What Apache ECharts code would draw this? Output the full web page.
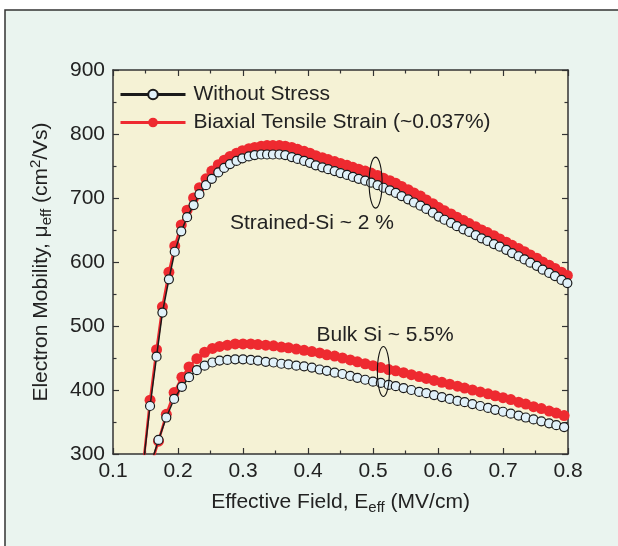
<!DOCTYPE html>
<html>
<head>
<meta charset="utf-8">
<title>Electron mobility vs effective field</title>
<script src="https://cdn.jsdelivr.net/npm/echarts@6/dist/echarts.min.js"></script>
<style>
    html, body { margin: 0; padding: 0; background: #fff; overflow: hidden; }
    #chart { width: 618px; height: 546px; }
</style>
</head>
<body>
<div id="chart"></div>
<script>
// effective field (MV/cm) of each marker
var strainedField = [0.148, 0.157, 0.167, 0.176, 0.186, 0.195, 0.205, 0.214, 0.224, 0.233,
    0.243, 0.252, 0.262, 0.271, 0.280, 0.290, 0.299, 0.309, 0.318, 0.328,
    0.337, 0.346, 0.356, 0.365, 0.375, 0.384, 0.394, 0.403, 0.412, 0.422,
    0.431, 0.441, 0.450, 0.460, 0.469, 0.478, 0.488, 0.497, 0.507, 0.516,
    0.526, 0.535, 0.544, 0.554, 0.563, 0.573, 0.582, 0.592, 0.601, 0.610,
    0.620, 0.629, 0.639, 0.648, 0.658, 0.667, 0.676, 0.686, 0.695, 0.705,
    0.714, 0.724, 0.733, 0.742, 0.752, 0.761, 0.771, 0.780, 0.790, 0.799];
var strainedNoStress = [296, 375, 452, 521, 573, 616, 648, 670, 689, 706,
    720, 730, 740, 747, 753, 758, 762, 765, 767, 768,
    768, 768, 768, 767, 764, 761, 758, 755, 751, 748,
    745, 742, 739, 736, 733, 730, 727, 724, 720, 716,
    712, 708, 703, 698, 693, 688, 683, 677, 671, 666,
    661, 656, 651, 647, 642, 637, 633, 628, 624, 619,
    614, 609, 604, 599, 594, 588, 583, 578, 572, 567];
var strainedTensile = [298, 384, 463, 530, 584, 625, 658, 681, 700, 716,
    730, 742, 752, 759, 765, 770, 774, 777, 779, 781,
    782, 782, 782, 781, 779, 776, 773, 770, 766, 763,
    760, 757, 754, 751, 748, 745, 742, 739, 735, 731,
    727, 723, 718, 713, 708, 703, 697, 691, 685, 680,
    675, 670, 665, 660, 655, 650, 646, 641, 636, 631,
    626, 621, 616, 611, 606, 600, 595, 590, 584, 579];

var bulkField = [0.158, 0.170, 0.182, 0.194, 0.206, 0.217, 0.229, 0.241, 0.253, 0.264,
    0.276, 0.288, 0.300, 0.312, 0.323, 0.335, 0.347, 0.359, 0.370, 0.382,
    0.394, 0.406, 0.418, 0.429, 0.441, 0.453, 0.465, 0.476, 0.488, 0.500,
    0.512, 0.524, 0.535, 0.547, 0.559, 0.571, 0.582, 0.594, 0.606, 0.618,
    0.630, 0.641, 0.653, 0.665, 0.677, 0.688, 0.700, 0.712, 0.724, 0.735,
    0.747, 0.759, 0.771, 0.782, 0.794];
var bulkNoStress = [284, 322, 357, 386, 405, 420, 431, 438, 443, 446,
    447, 448, 448, 447, 446, 444, 443, 441, 440, 438,
    437, 435, 432, 430, 427, 425, 422, 419, 416, 413,
    411, 408, 406, 403, 400, 397, 395, 392, 389, 386,
    383, 381, 378, 375, 372, 369, 366, 363, 360, 357,
    354, 351, 348, 345, 342];
var bulkTensile = [280, 320, 362, 396, 420, 436, 449, 459, 465, 468,
    470, 472, 472, 472, 471, 470, 469, 467, 466, 464,
    462, 460, 458, 455, 453, 450, 447, 444, 441, 438,
    435, 432, 430, 427, 424, 421, 418, 415, 412, 409,
    406, 403, 400, 397, 394, 391, 388, 385, 381, 378,
    374, 371, 367, 364, 360];

var xTickLabels = ['0.1', '0.2', '0.3', '0.4', '0.5', '0.6', '0.7', '0.8'];
var yTickLabels = ['300', '400', '500', '600', '700', '800', '900'];

var seriesNames = ['Without Stress', 'Biaxial Tensile Strain (~0.037%)'];

var FONT = '"Liberation Sans", Arial, Helvetica, sans-serif';
var INK = '#222';
var RED = '#ee2a30';
var FS = 21;

function pairs(xs, ys) {
    return xs.map(function (x, i) { return [x, ys[i]]; });
}

function tensileSeries(xs, ys) {
    return {
        name: seriesNames[1],
        type: 'line',
        data: pairs(xs, ys),
        symbol: 'circle',
        symbolSize: 11,
        showAllSymbol: true,
        clip: true,
        z: 2,
        itemStyle: { color: RED },
        lineStyle: { color: RED, width: 2.5 },
        emphasis: { disabled: true }
    };
}

function noStressSeries(xs, ys) {
    return {
        name: seriesNames[0],
        type: 'line',
        data: pairs(xs, ys),
        symbol: 'circle',
        symbolSize: 9,
        showAllSymbol: true,
        clip: true,
        z: 3,
        itemStyle: { color: '#e1f1f9', borderColor: '#1a1a1a', borderWidth: 1.2 },
        lineStyle: { color: '#1a1a1a', width: 1.5 },
        emphasis: { disabled: true }
    };
}

var axisLine = { show: true, onZero: false, lineStyle: { color: '#333', width: 1.5 } };
var majorTick = { inside: true, length: 6, lineStyle: { color: '#333', width: 1.2 } };
var minorTick = { show: true, splitNumber: 2, length: 3.5, lineStyle: { color: '#333', width: 1.2 } };

var chart = echarts.init(document.getElementById('chart'));
chart.setOption({
    animation: false,
    textStyle: { fontFamily: FONT },
    grid: {
        left: 113, right: 50, top: 70, bottom: 92,
        show: true, backgroundColor: '#f5f2d5', borderWidth: 0
    },
    legend: {
        data: [
            { name: seriesNames[0], lineStyle: { width: 3 } },
            { name: seriesNames[1], lineStyle: { width: 3 } }
        ],
        orient: 'vertical',
        left: 119, top: 84,
        padding: 0,
        itemWidth: 65, itemHeight: 12, itemGap: 7,
        textStyle: { fontSize: FS, color: INK, fontFamily: FONT, padding: [0, 0, 0, 3] },
        selectedMode: false
    },
    xAxis: [{
        type: 'value', min: 0.1, max: 0.8, interval: 0.1,
        position: 'bottom',
        name: 'Effective Field, E{sub|eff} (MV/cm)',
        nameLocation: 'middle', nameGap: 35,
        nameTextStyle: {
            fontSize: FS, color: INK, fontFamily: FONT, lineHeight: 26,
            rich: { sub: { fontSize: 15, lineHeight: 14, verticalAlign: 'bottom', color: INK, fontFamily: FONT } }
        },
        axisLine: axisLine,
        axisTick: majorTick,
        minorTick: minorTick,
        splitLine: { show: false },
        axisLabel: {
            fontSize: FS, color: INK, fontFamily: FONT, margin: 7,
            formatter: function (v) { return xTickLabels[Math.round((v - 0.1) * 10)]; }
        }
    }, {
        type: 'value', min: 0.1, max: 0.8, interval: 0.1,
        position: 'top',
        axisLine: axisLine,
        axisTick: majorTick,
        minorTick: minorTick,
        splitLine: { show: false },
        axisLabel: { show: false }
    }],
    yAxis: [{
        type: 'value', min: 300, max: 900, interval: 100,
        position: 'left',
        name: 'Electron Mobility, μ{sub|eff} (cm{sup|2}/Vs)',
        nameLocation: 'middle', nameRotate: 90, nameGap: 59,
        nameTextStyle: {
            fontSize: FS, color: INK, fontFamily: FONT, lineHeight: 26,
            rich: {
                sub: { fontSize: 15, lineHeight: 14, verticalAlign: 'bottom', color: INK, fontFamily: FONT },
                sup: { fontSize: 15, lineHeight: 14, verticalAlign: 'top', color: INK, fontFamily: FONT }
            }
        },
        axisLine: axisLine,
        axisTick: majorTick,
        minorTick: minorTick,
        splitLine: { show: false },
        axisLabel: {
            fontSize: FS, color: INK, fontFamily: FONT, margin: 8,
            formatter: function (v) { return yTickLabels[Math.round((v - 300) / 100)]; }
        }
    }, {
        type: 'value', min: 300, max: 900, interval: 100,
        position: 'right',
        axisLine: axisLine,
        axisTick: majorTick,
        minorTick: minorTick,
        splitLine: { show: false },
        axisLabel: { show: false }
    }],
    series: [
        tensileSeries(strainedField, strainedTensile),
        tensileSeries(bulkField, bulkTensile),
        noStressSeries(strainedField, strainedNoStress),
        noStressSeries(bulkField, bulkNoStress)
    ]
});

// annotations placed in data coordinates
function px(x, y) {
    return chart.convertToPixel({ xAxisIndex: 0, yAxisIndex: 0 }, [x, y]);
}
var strainedRing = px(0.504, 724);
var bulkRing = px(0.516, 429);
var strainedNote = px(0.28, 661);
var bulkNote = px(0.413, 485);

chart.setOption({
    graphic: [
        // outer panel of the figure
        { type: 'rect', z: -10, silent: true, shape: { x: 5, y: 10, width: 700, height: 600 },
          style: { fill: '#eaf4ef', stroke: '#333', lineWidth: 1.5 } },
        { type: 'ellipse', z: 10, shape: { cx: strainedRing[0], cy: strainedRing[1], rx: 6.5, ry: 25.5 },
          style: { fill: 'none', stroke: '#111', lineWidth: 1.1 } },
        { type: 'ellipse', z: 10, shape: { cx: bulkRing[0], cy: bulkRing[1], rx: 6, ry: 25 },
          style: { fill: 'none', stroke: '#111', lineWidth: 1.1 } },
        { type: 'text', z: 10, x: strainedNote[0], y: strainedNote[1],
          style: { text: 'Strained-Si ~ 2 %', fontSize: FS, fontFamily: FONT, fill: INK, verticalAlign: 'middle' } },
        { type: 'text', z: 10, x: bulkNote[0], y: bulkNote[1],
          style: { text: 'Bulk Si ~ 5.5%', fontSize: FS, fontFamily: FONT, fill: INK, verticalAlign: 'middle' } }
    ]
});
</script>
</body>
</html>
